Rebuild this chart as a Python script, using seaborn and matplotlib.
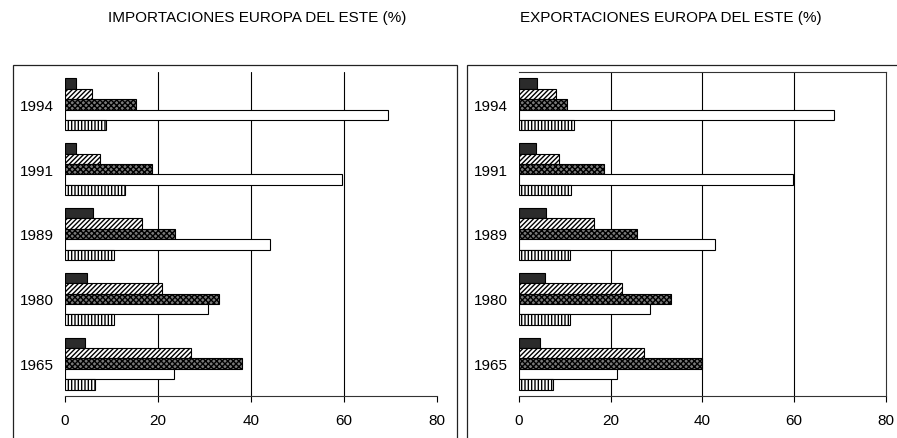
import numpy as np
import pandas as pd
import matplotlib
matplotlib.use("Agg")
import matplotlib.pyplot as plt
from matplotlib.patches import Rectangle
import seaborn as sns

# Years (top to bottom) and the five partner groups, shares in %
years = ["1994", "1991", "1989", "1980", "1965"]
series = ["Grupo 1", "Grupo 2", "Grupo 3", "Grupo 4", "Grupo 5"]

imp_g1 = [2.5, 2.5, 6.1, 4.9, 4.5]
imp_g2 = [5.9, 7.6, 16.7, 21.0, 27.2]
imp_g3 = [15.4, 18.7, 23.8, 33.1, 38.2]
imp_g4 = [69.5, 59.7, 44.2, 30.9, 23.5]
imp_g5 = [9.0, 13.1, 10.6, 10.6, 6.5]

exp_g1 = [4.0, 3.8, 5.9, 5.6, 4.6]
exp_g2 = [8.0, 8.7, 16.3, 22.5, 27.2]
exp_g3 = [10.5, 18.5, 25.8, 33.2, 40.0]
exp_g4 = [68.8, 59.8, 42.8, 28.5, 21.4]
exp_g5 = [12.1, 11.4, 11.2, 11.1, 7.5]

x_ticks = [0, 20, 40, 60, 80]

titles = ["IMPORTACIONES EUROPA DEL ESTE (%)", "EXPORTACIONES EUROPA DEL ESTE (%)"]


def long_table(cols):
    rows = []
    for name, vals in zip(series, cols):
        for yr, v in zip(years, vals):
            rows.append({"year": yr, "grupo": name, "valor": v})
    return pd.DataFrame(rows)


imp_df = long_table([imp_g1, imp_g2, imp_g3, imp_g4, imp_g5])
exp_df = long_table([exp_g1, exp_g2, exp_g3, exp_g4, exp_g5])

sns.set_theme(style="white")
plt.rcParams["font.family"] = ["Liberation Sans", "DejaVu Sans"]
plt.rcParams["hatch.linewidth"] = 1.0

fig = plt.figure(figsize=(8.97, 4.39), dpi=100)
W, H = 897.0, 439.0

# outer chart frames
fig.patches.append(Rectangle((12.7 / W, -0.05), (456.7 - 12.7) / W, 1.05 - 66 / H,
                             transform=fig.transFigure, fill=False, lw=0.9,
                             ec="#222222", clip_on=False))
fig.patches.append(Rectangle((466.5 / W, -0.05), 0.6, 1.05 - 66 / H,
                             transform=fig.transFigure, fill=False, lw=0.9,
                             ec="#222222", clip_on=False))

styles = [
    dict(fc="#2b2b2b", hatch=None),
    dict(fc="white", hatch="///////"),
    dict(fc="#7a7a7a", hatch="xxxxxx"),
    dict(fc="white", hatch=None),
    dict(fc="white", hatch="|||||"),
]

axes_px = [(64.5, 437.0), (519.0, 885.7)]
top_px, bot_px = 73.0, 397.0
title_x = [108, 520]

for i, (df, (x0, x1)) in enumerate(zip([imp_df, exp_df], axes_px)):
    ax = fig.add_axes([x0 / W, 1 - bot_px / H, (x1 - x0) / W, (bot_px - top_px) / H])
    sns.barplot(data=df, x="valor", y="year", hue="grupo", order=years,
                hue_order=series, orient="h", width=0.8, ax=ax,
                edgecolor="black", linewidth=0.8, legend=False)
    for cont, st in zip(ax.containers, styles):
        for p in cont:
            p.set_facecolor(st["fc"])
            p.set_edgecolor("black")
            if st["hatch"]:
                p.set_hatch(st["hatch"])
    ax.set_xlim(0, 80)
    ax.set_ylim(4.5, -0.5)
    ax.set_xticks(x_ticks)
    ax.set_xticklabels([str(t) for t in x_ticks], fontsize=11)
    ax.set_xlabel("")
    ax.set_ylabel("")
    ax.tick_params(axis="y", length=0, labelsize=11, pad=8)
    ax.tick_params(axis="x", bottom=True, direction="out", length=4, width=0.8,
                   color="black", pad=8)
    for t in ax.get_yticklabels():
        t.set_color("black")
    for t in ax.get_xticklabels():
        t.set_color("black")
    for g in [20, 40, 60]:
        ax.axvline(g, color="black", lw=0.8, zorder=0)
    ax.set_facecolor("none")
    ax.spines["left"].set_visible(False)
    ax.spines["bottom"].set_color("#333333")
    ax.spines["bottom"].set_linewidth(0.8)
    if i == 1:
        ax.spines["top"].set_color("#333333")
        ax.spines["top"].set_linewidth(0.8)
        ax.spines["right"].set_color("#333333")
        ax.spines["right"].set_linewidth(0.8)
    else:
        ax.spines["top"].set_visible(False)
        ax.spines["right"].set_visible(False)
    fig.text(title_x[i] / W, 1 - 18 / H, titles[i], ha="left", va="center",
             fontsize=11, color="black")

fig.savefig("out.png", dpi=100)
